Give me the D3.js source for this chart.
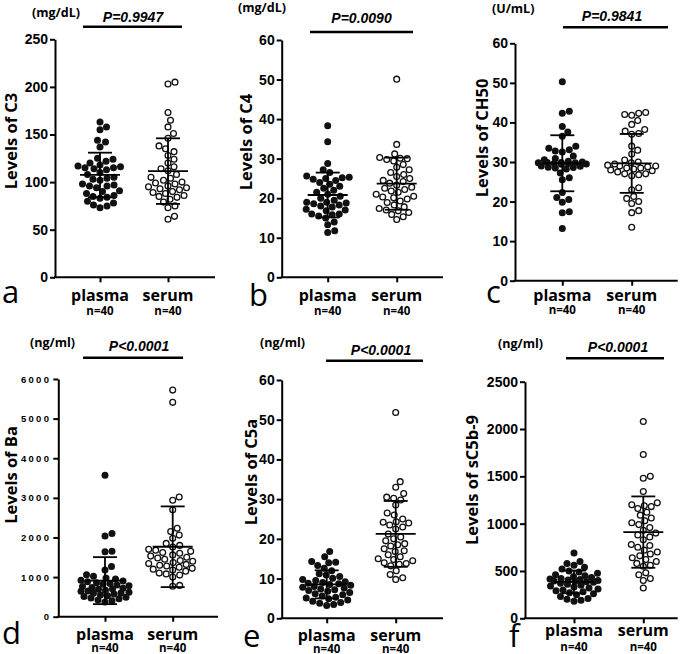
<!DOCTYPE html>
<html><head><meta charset="utf-8">
<script src="https://cdn.jsdelivr.net/npm/d3@7"></script>
<style>body{margin:0;background:#fff} svg{display:block}</style>
</head><body>
<svg id="chart" width="685" height="654"></svg>
<script>
// ---------- data ----------
const groups = ["plasma", "serum"];
const groupN = ["n=40", "n=40"];
const panelLetters = ["a", "b", "c", "d", "e", "f"];
const yLabels = ["Levels of C3", "Levels of C4", "Levels of CH50", "Levels of Ba", "Levels of C5a", "Levels of sC5b-9"];
const units = ["(mg/dL)", "(mg/dL)", "(U/mL)", "(ng/ml)", "(ng/ml)", "(ng/ml)"];
const pValues = ["P=0.9947", "P=0.0090", "P=0.9841", "P<0.0001", "P<0.0001", "P<0.0001"];

const ticksC3 = [0, 50, 100, 150, 200, 250];
const ticksC4 = [0, 10, 20, 30, 40, 50, 60];
const ticksCH50 = [0, 10, 20, 30, 40, 50, 60];
const ticksBa = [0, 1000, 2000, 3000, 4000, 5000, 6000];
const ticksC5a = [0, 10, 20, 30, 40, 50, 60];
const ticksC5b9 = [0, 500, 1000, 1500, 2000, 2500];

const c3Plasma = [163,158,155,144,142,137,125,124,122,120,118,117,116,115,115,114,113,110,108,105,104,103,102,98,97,96,96,94,91,90,88,86,85,84,83,80,78,76,75,73];
const c3Serum = [205,203,173,165,158,151,146,138,135,132,128,124,120,116,114,112,108,105,104,102,100,99,98,96,95,94,93,92,90,89,88,86,85,84,82,79,75,73,64,61];

const c4Plasma = [38.3,34.3,28.8,27.2,26.5,25.6,25.3,25.2,25.0,24.8,24.5,24.0,23.5,23.0,22.5,22.0,21.5,21.0,20.5,20.0,19.5,19.0,19.0,18.8,18.6,18.3,18.0,17.8,17.2,16.8,16.0,15.8,15.5,17.0,15.0,16.0,13.3,14.0,11.8,11.3];
const c4Serum = [50.1,33.6,31.2,30.3,30.1,30.0,29.8,29.4,28.5,27.8,27.2,26.5,26.0,25.5,25.0,24.5,24.2,23.8,23.3,22.8,22.5,22.2,21.8,21.5,21.0,20.5,20.3,20.1,19.8,19.3,18.9,18.3,17.8,17.4,17.0,16.8,16.4,15.9,15.3,14.6];

const ch50Plasma = [50.3,42.8,42.3,39.0,37.6,36.5,34.0,33.1,32.5,33.5,32.8,31.5,30.2,30.0,29.9,29.8,29.6,29.5,30.9,30.6,29.0,28.9,28.7,28.5,29.9,29.7,29.8,29.4,28.6,28.2,27.2,26.0,25.5,22.3,21.0,20.5,19.8,17.4,17.2,13.2];
const ch50Serum = [42.5,42.3,42.0,41.8,40.5,39.5,38.2,37.8,37.2,37.0,34.0,33.0,32.0,30.5,30.0,29.8,29.5,29.2,29.0,28.8,28.5,28.2,27.8,27.5,27.0,26.5,29.0,28.5,28.0,27.0,23.5,23.0,21.3,20.8,20.0,19.5,17.7,17.2,13.5,26.8];

const baPlasma = [3570,2100,2040,1650,1640,1270,1180,1060,1020,980,950,920,900,880,860,840,820,800,780,760,740,720,700,690,670,650,640,620,600,590,570,550,530,510,490,470,450,420,400,370];
const baSerum = [5720,5410,3020,2940,2700,2230,2150,2060,1980,1850,1800,1760,1700,1680,1650,1620,1600,1560,1530,1500,1480,1450,1420,1400,1370,1340,1320,1300,1280,1250,1220,1200,1180,1150,1100,1080,1050,1000,790,770];

const c5aPlasma = [16.8,15.5,14.3,14.1,14.0,13.3,12.6,12.0,11.2,10.9,10.5,10.1,9.8,9.5,9.2,9.0,8.8,8.7,8.5,8.3,8.0,7.8,7.6,7.4,7.2,7.0,6.8,6.5,6.2,5.9,5.6,5.3,5.1,4.9,4.6,4.3,4.0,3.8,3.5,3.2];
const c5aSerum = [51.8,34.4,33.0,31.4,30.5,30.2,29.8,28.5,26.5,26.0,25.0,24.3,24.2,24.0,23.5,23.0,22.5,21.2,20.5,20.0,19.5,18.8,18.5,18.2,17.5,17.0,16.8,16.0,15.5,15.0,14.8,14.5,14.0,13.8,13.6,13.2,12.0,11.0,10.2,9.8];

const c5b9Plasma = [690,600,580,560,540,520,500,490,475,460,450,440,430,420,415,410,405,400,395,390,385,380,370,360,350,340,330,320,310,300,290,280,270,260,250,230,210,200,190,180];
const c5b9Serum = [2080,1730,1500,1480,1340,1220,1200,1190,1180,1160,1120,1090,1060,1030,1010,990,960,930,900,880,860,830,780,770,750,720,700,680,660,640,620,600,580,560,550,480,460,420,400,320];

const panelValues = [
  [c3Plasma, c3Serum], [c4Plasma, c4Serum], [ch50Plasma, ch50Serum],
  [baPlasma, baSerum], [c5aPlasma, c5aSerum], [c5b9Plasma, c5b9Serum]
];
const panelTicks = [ticksC3, ticksC4, ticksCH50, ticksBa, ticksC5a, ticksC5b9];

// ---------- layout (positions only) ----------
const layout = [
  {left:55,  right:215,   top:39.3, bottom:277.3, px:100,   sx:168,
   letter:[2,303], ylab:[17,141], unit:[32,17], p:[133,21.5], pline:[83,182,26.7], xlab:300.5, nlab:315},
  {left:281.7, right:443, top:40,   bottom:277.3, px:327.7, sx:396.7,
   letter:[249,306], ylab:[252,142], unit:[238,12], p:[361.5,23], pline:[310,413,32], xlab:300.5, nlab:315},
  {left:515, right:677.7, top:43.3, bottom:280.7, px:562.3, sx:631.7,
   letter:[486,303], ylab:[488,138], unit:[492,13], p:[612,20.5], pline:[563,668,27.3], xlab:300.5, nlab:313.5},
  {left:58.3, right:218,  top:379,  bottom:616.7, px:105,   sx:172.7,
   letter:[2,644], ylab:[16.5,475], unit:[30,346.5], p:[139,350.5], pline:[83,183,357.7], xlab:639.5, nlab:652},
  {left:281.7, right:443, top:380,  bottom:618.3, px:326.7, sx:395.7,
   letter:[243,647], ylab:[257,472], unit:[260,346.5], p:[381,354.5], pline:[326,423,360.7], xlab:640.5, nlab:652.5},
  {left:525, right:677.7, top:381.7, bottom:618.3, px:574,  sx:643.3,
   letter:[509,647], ylab:[478,480], unit:[498,348], p:[618,351.5], pline:[566,664,358.3], xlab:636, nlab:651}
];

const svg = d3.select("#chart");
const R = 3.5;
const MAXW = 24;

function swarm(values, y, cx) {
  const pts = values.map(v => ({v, y: y(v)})).sort((a, b) => b.y - a.y);
  const placed = [];
  const d = 2 * R;
  for (const p of pts) {
    let bestX = cx, bestCost = Infinity, found = false;
    for (let k = 0; ; k++) {
      const off = k === 0 ? 0 : ((k % 2) ? 1 : -1) * Math.ceil(k / 2) * 0.5;
      if (Math.abs(off) > MAXW) break;
      const x = cx + off;
      let cost = 0;
      for (const q of placed) {
        const dx = q.x - x, dy = q.y - p.y;
        const dist = Math.sqrt(dx * dx + dy * dy);
        if (dist < d) cost += d - dist;
      }
      if (cost === 0) { p.x = x; found = true; break; }
      if (cost < bestCost - 1e-9) { bestCost = cost; bestX = x; }
    }
    if (!found) p.x = bestX;
    placed.push(p);
  }
  return placed;
}

panelValues.forEach((vals, i) => {
  const L = layout[i];
  const ticks = panelTicks[i];
  const g = svg.append("g");
  const y = d3.scaleLinear().domain([0, d3.max(ticks)]).range([L.bottom, L.top]);
  const x = d3.scalePoint().domain(groups).range([L.px, L.sx]);

  // y axis
  const ya = g.append("g").attr("transform", `translate(${L.left},0)`)
    .call(d3.axisLeft(y).tickValues(ticks).tickFormat(d3.format("d")).tickSize(5).tickSizeOuter(0).tickPadding(2));
  ya.selectAll("path,line").attr("stroke", "#000").attr("stroke-width", 2);
  if (i === 3) {
    ya.selectAll("text").attr("font-family", "Liberation Sans, Arial, sans-serif")
      .attr("font-weight", "bold").attr("font-size", 9.5).attr("letter-spacing", 2.3).attr("fill", "#000");
  } else {
    ya.selectAll("text").attr("font-family", "Liberation Sans, Arial, sans-serif")
      .attr("font-weight", "bold").attr("font-size", 14).attr("fill", "#000");
  }

  // x axis
  const xa = g.append("g").attr("transform", `translate(0,${L.bottom})`)
    .call(d3.axisBottom(x).tickSize(5).tickFormat(""));
  xa.select(".domain").remove();
  xa.selectAll("line").attr("stroke", "#000").attr("stroke-width", 2);
  g.append("line").attr("x1", L.left - 1).attr("x2", L.right)
    .attr("y1", L.bottom).attr("y2", L.bottom).attr("stroke", "#000").attr("stroke-width", 2);

  groups.forEach((grp, gi) => {
    g.append("text").attr("x", x(grp)).attr("y", L.xlab).attr("text-anchor", "middle")
      .attr("font-family", "Open Sans, sans-serif").attr("font-weight", "bold").attr("font-size", 16)
      .text(grp);
    g.append("text").attr("x", x(grp)).attr("y", L.nlab).attr("text-anchor", "middle")
      .attr("font-family", "Open Sans, sans-serif").attr("font-weight", "bold").attr("font-size", 11.5)
      .text(groupN[gi]);
  });

  // dots
  vals.forEach((arr, gi) => {
    const pts = swarm(arr, y, x(groups[gi]));
    g.append("g").selectAll("circle").data(pts).join("circle")
      .attr("cx", d => d.x).attr("cy", d => d.y)
      .attr("r", gi === 0 ? R : R - 0.6)
      .attr("fill", gi === 0 ? "#111" : "#fff")
      .attr("stroke", "#111").attr("stroke-width", gi === 0 ? 0 : 1.3);
  });

  // mean ± SD
  vals.forEach((arr, gi) => {
    const m = d3.mean(arr), s = d3.deviation(arr);
    const cx = x(groups[gi]);
    const eb = g.append("g").attr("stroke", "#000").attr("stroke-width", 1.8);
    eb.append("line").attr("x1", cx).attr("x2", cx).attr("y1", y(Math.max(0, m - s))).attr("y2", y(m + s));
    eb.append("line").attr("x1", cx - 20).attr("x2", cx + 20).attr("y1", y(m)).attr("y2", y(m));
    eb.append("line").attr("x1", cx - 12).attr("x2", cx + 12).attr("y1", y(m + s)).attr("y2", y(m + s));
    if (m - s > 0) eb.append("line").attr("x1", cx - 12).attr("x2", cx + 12).attr("y1", y(m - s)).attr("y2", y(m - s));
  });

  // y label
  g.append("text").attr("transform", `translate(${L.ylab[0]},${L.ylab[1]}) rotate(-90)`)
    .attr("text-anchor", "middle").attr("font-family", "Open Sans, sans-serif")
    .attr("font-weight", "bold").attr("font-size", 16.5).text(yLabels[i]);

  // unit
  g.append("text").attr("x", L.unit[0]).attr("y", L.unit[1])
    .attr("font-family", "Open Sans, sans-serif").attr("font-weight", "bold").attr("font-size", 12.5)
    .text(units[i]);

  // p value
  g.append("text").attr("x", L.p[0]).attr("y", L.p[1]).attr("text-anchor", "middle")
    .attr("font-family", "Liberation Sans, Arial, sans-serif").attr("font-weight", "bold")
    .attr("font-style", "italic").attr("font-size", 14).text(pValues[i]);
  g.append("line").attr("x1", L.pline[0]).attr("x2", L.pline[1])
    .attr("y1", L.pline[2]).attr("y2", L.pline[2]).attr("stroke", "#000").attr("stroke-width", 2.5);

  // panel letter
  g.append("text").attr("x", L.letter[0]).attr("y", L.letter[1])
    .attr("font-family", "Open Sans, sans-serif").attr("font-size", 31).text(panelLetters[i]);
});
</script>
</body></html>
